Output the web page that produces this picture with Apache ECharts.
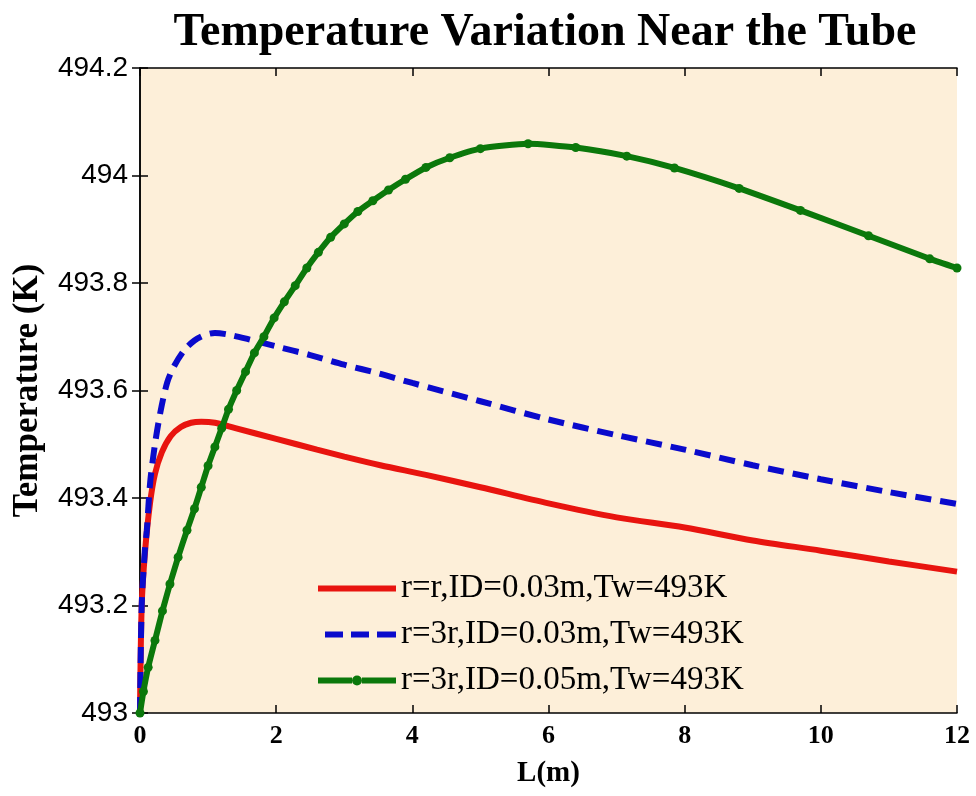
<!DOCTYPE html>
<html>
<head>
<meta charset="utf-8">
<script src="https://cdn.jsdelivr.net/npm/echarts@6/dist/echarts.min.js"></script>
<style>
html,body{margin:0;padding:0;background:#fff;}
#c{width:976px;height:796px;}
</style>
</head>
<body>
<div id="c"></div>
<script>
const titleText = "Temperature Variation Near the Tube";
const xName = "L(m)";
const yName = "Temperature (K)";
const seriesNames = ["r=r,ID=0.03m,Tw=493K", "r=3r,ID=0.03m,Tw=493K", "r=3r,ID=0.05m,Tw=493K"];

const redX = [0, 0.025, 0.074, 0.147, 0.22, 0.32, 0.45, 0.6, 0.75, 0.9, 1.1, 1.4, 2.0, 2.6, 3.0, 3.53, 4.2, 5.0, 6.0, 7.0, 8.0, 9.0, 10.0, 11.0, 12.0];
const redY = [493.0, 493.2, 493.3, 493.39, 493.445, 493.485, 493.515, 493.532, 493.54, 493.542, 493.54, 493.53, 493.51, 493.49, 493.477, 493.461, 493.443, 493.42, 493.39, 493.364, 493.345, 493.321, 493.302, 493.282, 493.263];

const blueX = [0, 0.025, 0.07, 0.1, 0.15, 0.22, 0.3, 0.4, 0.5, 0.65, 0.8, 0.95, 1.1, 1.3, 1.6, 2.0, 2.5, 3.0, 3.5, 4.0, 5.0, 6.0, 7.0, 8.0, 9.0, 10.0, 11.0, 12.0];
const blueY = [493.0, 493.2, 493.3, 493.34, 493.43, 493.5, 493.56, 493.615, 493.645, 493.675, 493.693, 493.703, 493.707, 493.704, 493.695, 493.682, 493.666, 493.648, 493.632, 493.614, 493.58, 493.546, 493.517, 493.49, 493.461, 493.435, 493.411, 493.389];

const greenX = [0, 0.05, 0.12, 0.22, 0.33, 0.44, 0.56, 0.69, 0.8, 0.9, 1.0, 1.1, 1.2, 1.3, 1.42, 1.55, 1.68, 1.82, 1.97, 2.12, 2.28, 2.45, 2.62, 2.8, 3.0, 3.2, 3.42, 3.65, 3.9, 4.2, 4.55, 5.0, 5.7, 6.4, 7.15, 7.85, 8.8, 9.7, 10.7, 11.6, 12.0];
const greenY = [493.0, 493.04, 493.085, 493.135, 493.19, 493.24, 493.29, 493.34, 493.38, 493.42, 493.46, 493.495, 493.53, 493.565, 493.6, 493.635, 493.67, 493.7, 493.735, 493.765, 493.795, 493.828, 493.857, 493.885, 493.91, 493.933, 493.953, 493.973, 493.993, 494.015, 494.033, 494.05, 494.059, 494.052, 494.036, 494.014, 493.976, 493.935, 493.888, 493.845, 493.828];

const zip = (xs, ys) => xs.map((x, i) => [x, ys[i]]);
const fmt = v => String(Math.round(v * 10) / 10);

const RED = '#E8140F', BLUE = '#0A0ACC', GREEN = '#0B780B';

// legend icons (line samples) in a 78x14 box
const iconSolid = 'path://M0,0M78,14M0,4h78v6h-78z';
const iconDash = 'path://M0,0M78,14M7,4h18v6h-18zM33,4h18v6h-18zM59,4h19v6h-19z';
const iconDot = 'path://M0,0M78,14M0,4h34v6h-34zM44,4h34v6h-34zM34,7a5,5 0 1,1 10,0a5,5 0 1,1 -10,0z';

const chart = echarts.init(document.getElementById('c'));
const axisLine = {show: true, lineStyle: {color: '#000', width: 1.5}};
const tick = {show: true, inside: true, length: 8, lineStyle: {color: '#000', width: 1.5}};

chart.setOption({
  backgroundColor: '#ffffff',
  animation: false,
  title: {
    text: titleText, left: 540, top: 5, textAlign: 'center',
    textStyle: {fontFamily: 'Liberation Serif', fontWeight: 'bold', fontSize: 46, color: '#000'}
  },
  grid: {left: 140, right: 19, top: 68, bottom: 83, show: true, backgroundColor: '#FDEFD9', borderWidth: 0},
  legend: {
    orient: 'vertical', left: 313, top: 567, itemWidth: 78, itemHeight: 14, itemGap: 13,
    textStyle: {fontFamily: 'Liberation Serif', fontSize: 33, color: '#000'},
    data: [
      {name: seriesNames[0], icon: iconSolid},
      {name: seriesNames[1], icon: iconDash},
      {name: seriesNames[2], icon: iconDot}
    ]
  },
  xAxis: [
    {type: 'value', min: 0, max: 12, interval: 2, position: 'bottom',
     name: xName, nameLocation: 'middle', nameGap: 46,
     nameTextStyle: {fontFamily: 'Liberation Serif', fontWeight: 'bold', fontSize: 29, color: '#000'},
     axisLine: axisLine, axisTick: tick, splitLine: {show: false},
     axisLabel: {fontFamily: 'Liberation Serif', fontWeight: 'bold', fontSize: 26, color: '#000', margin: 10, formatter: fmt}},
    {type: 'value', min: 0, max: 12, interval: 2, position: 'top',
     axisLine: axisLine, axisTick: tick, splitLine: {show: false}, axisLabel: {show: false}}
  ],
  yAxis: [
    {type: 'value', min: 493, max: 494.2, interval: 0.2, position: 'left',
     name: yName, nameLocation: 'middle', nameGap: 95, nameRotate: 90,
     nameTextStyle: {fontFamily: 'Liberation Serif', fontWeight: 'bold', fontSize: 35, color: '#000'},
     axisLine: axisLine, axisTick: tick, splitLine: {show: false},
     axisLabel: {fontFamily: 'Liberation Sans', fontSize: 28, color: '#000', margin: 12, formatter: fmt}},
    {type: 'value', min: 493, max: 494.2, interval: 0.2, position: 'right',
     axisLine: axisLine, axisTick: tick, splitLine: {show: false}, axisLabel: {show: false}}
  ],
  series: [
    {name: seriesNames[0], type: 'line', data: zip(redX, redY), smooth: 0.3, symbol: 'none',
     lineStyle: {color: RED, width: 6}, itemStyle: {color: RED}},
    {name: seriesNames[1], type: 'line', data: zip(blueX, blueY), smooth: 0.3, symbol: 'none',
     lineStyle: {color: BLUE, width: 6, type: [16, 9]}, itemStyle: {color: BLUE}},
    {name: seriesNames[2], type: 'line', data: zip(greenX, greenY), smooth: 0.2, symbol: 'circle', symbolSize: 9,
     lineStyle: {color: GREEN, width: 6}, itemStyle: {color: GREEN}}
  ]
});
</script>
</body>
</html>
